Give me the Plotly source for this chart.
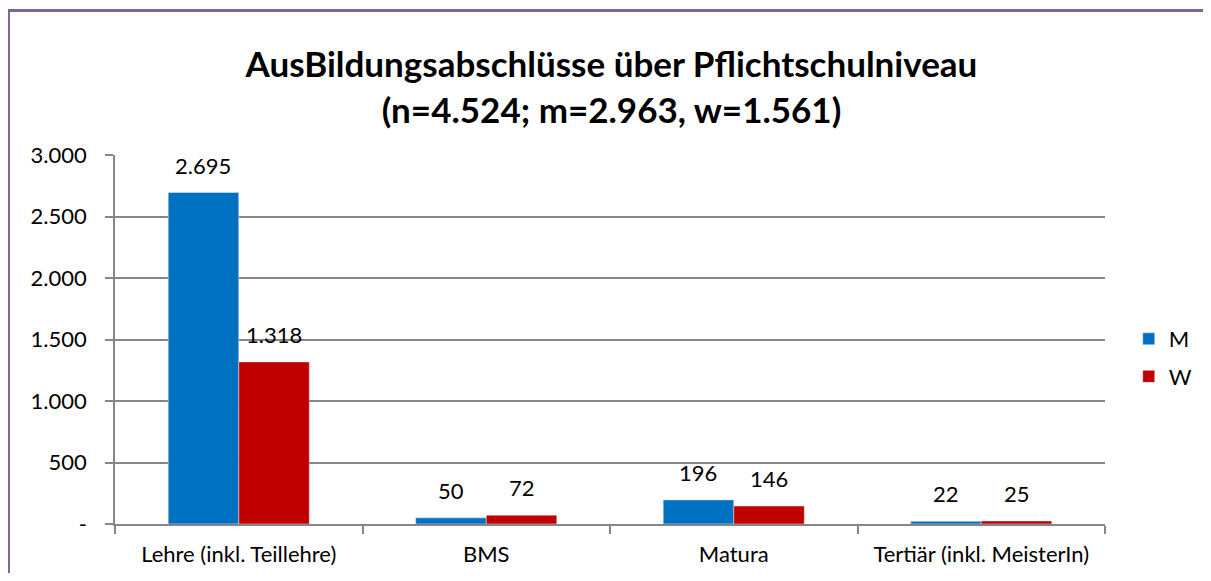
import plotly.graph_objects as go

# Ausbildungsabschlüsse nach Geschlecht
kategorien = ["Lehre (inkl. Teillehre)", "BMS", "Matura", "Tertiär (inkl. MeisterIn)"]
maenner = [2695, 50, 196, 22]
frauen = [1318, 72, 146, 25]

y_ticks = [0, 500, 1000, 1500, 2000, 2500, 3000]
y_ticktext = ["-", "500", "1.000", "1.500", "2.000", "2.500", "3.000"]


def punkt(v):
    return f"{v:,}".replace(",", ".")


schrift = "Lato, Calibri, sans-serif"

fig = go.Figure()
fig.add_trace(go.Bar(name="M", x=kategorien, y=maenner,
                     marker_color="#0070C0", legendgroup="m"))
fig.add_trace(go.Bar(name="W", x=kategorien, y=frauen,
                     marker_color="#C00000", legendgroup="w"))

# Datenbeschriftungen über den Balken
beschriftungen = []
for i, kat in enumerate(kategorien):
    for werte, versatz in ((maenner, -35.5), (frauen, 35.5)):
        beschriftungen.append(dict(
            x=kat, y=werte[i], text=punkt(werte[i]),
            xref="x", yref="y", showarrow=False,
            xanchor="center", yanchor="bottom",
            xshift=versatz, yshift=12,
            font=dict(size=22, color="black", family=schrift),
        ))

fig.update_layout(
    width=1195, height=565,
    margin=dict(l=107, r=98, t=147, b=49, autoexpand=False),
    paper_bgcolor="white", plot_bgcolor="white",
    font=dict(family=schrift, size=22, color="black"),
    title=dict(
        text="<b>AusBildungsabschlüsse über Pflichtschulniveau<br>(n=4.524; m=2.963, w=1.561)</b>",
        x=0.505, xanchor="center", y=0.877, yanchor="middle",
        font=dict(size=35, family=schrift),
    ),
    barmode="group", bargap=0.43, bargroupgap=0,
    showlegend=True,
    legend=dict(x=1.024, y=0.45, xanchor="left", yanchor="middle",
                tracegroupgap=6, font=dict(size=22)),
    annotations=beschriftungen,
    shapes=[
        dict(type="line", xref="paper", yref="paper",
             x0=-0.108, x1=1.11, y0=1.3916, y1=1.3916,
             line=dict(color="#8064A2", width=3)),
        dict(type="line", xref="paper", yref="paper",
             x0=-0.1076, x1=-0.1076, y0=1.395, y1=-0.2,
             line=dict(color="#8064A2", width=3)),
    ],
)

fig.update_xaxes(
    showline=True, linecolor="#868686", linewidth=1.5,
    ticks="outside", tickson="boundaries", ticklen=8, tickcolor="#868686",
    tickwidth=1.5, showgrid=False, ticklabelstandoff=10, automargin=False,
)
fig.update_yaxes(
    range=[0, 3000], tickvals=y_ticks, ticktext=y_ticktext,
    showline=True, linecolor="#868686", linewidth=1.5,
    ticks="outside", ticklen=8, tickcolor="#868686", tickwidth=1.5,
    showgrid=True, gridcolor="#868686", gridwidth=1.5,
    zeroline=False, ticklabelstandoff=14, automargin=False,
)

fig.write_html("out.html")
